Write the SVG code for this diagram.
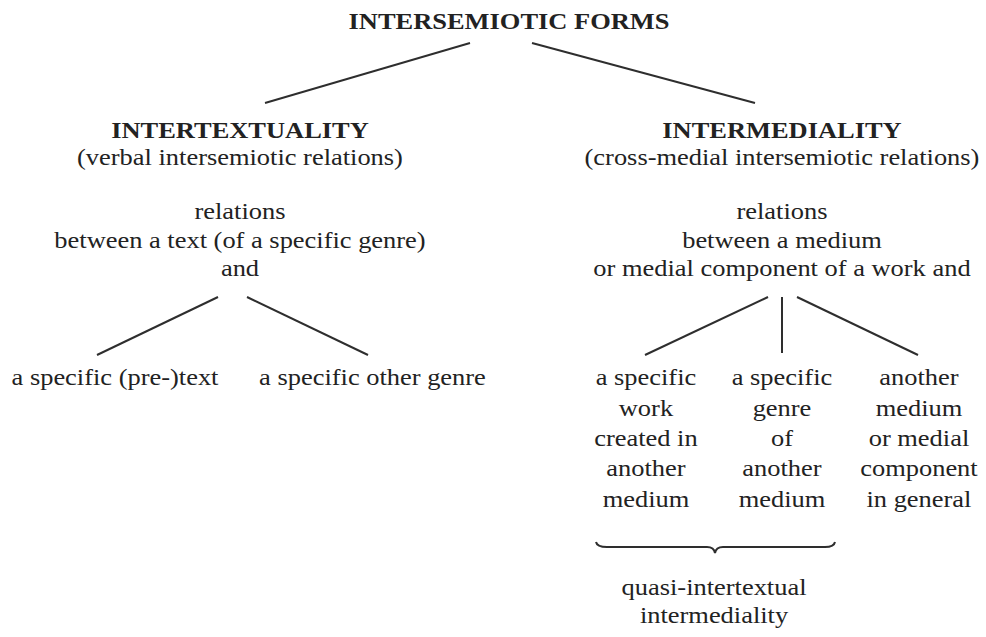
<svg xmlns="http://www.w3.org/2000/svg" width="986" height="637" viewBox="0 0 986 637">
<style>
text{font-family:'Liberation Serif','Times New Roman',serif;fill:#222222;text-anchor:middle;font-size:23px}
.b{font-weight:bold;font-size:23px}
.c line,.c path{stroke:#2e2e2e;stroke-width:2;fill:none}
</style>
<rect width="986" height="637" fill="#ffffff"/>
<g class="c" id="connectors">
<line x1="470" y1="43" x2="265" y2="103"/>
<line x1="532" y1="43" x2="755" y2="103"/>
<line x1="218" y1="297" x2="97" y2="355"/>
<line x1="247" y1="297" x2="368" y2="355"/>
<line x1="768" y1="297" x2="645" y2="355"/>
<line x1="782" y1="297" x2="782" y2="353"/>
<line x1="797" y1="297" x2="918" y2="355"/>
<path d="M596,542 Q597,547 607,547 L707,547 Q714,547 715,553 Q716,547 723,547 L825,547 Q834,547 835,542" stroke-width="1.6"/>
</g>
<g transform="scale(1.15,1)">
<g id="root"><text class="b" x="442.6" y="29">INTERSEMIOTIC FORMS</text></g>
<g id="intertextuality">
<text class="b" x="208.7" y="138">INTERTEXTUALITY</text>
<text x="208.7" y="165">(verbal intersemiotic relations)</text>
<text x="208.7" y="219">relations</text>
<text x="208.7" y="248">between a text (of a specific genre)</text>
<text x="208.7" y="276">and</text>
</g>
<g id="pretext"><text x="100" y="385">a specific (pre-)text</text></g>
<g id="othergenre"><text x="323.9" y="385">a specific other genre</text></g>
<g id="intermediality">
<text class="b" x="680" y="138">INTERMEDIALITY</text>
<text x="680" y="165">(cross-medial intersemiotic relations)</text>
<text x="680" y="219">relations</text>
<text x="680" y="248">between a medium</text>
<text x="680" y="276">or medial component of a work and</text>
</g>
<g id="work">
<text x="561.7" y="385">a specific</text>
<text x="561.7" y="416">work</text>
<text x="561.7" y="446">created in</text>
<text x="561.7" y="476">another</text>
<text x="561.7" y="507">medium</text>
</g>
<g id="genre">
<text x="680" y="385">a specific</text>
<text x="680" y="416">genre</text>
<text x="680" y="446">of</text>
<text x="680" y="476">another</text>
<text x="680" y="507">medium</text>
</g>
<g id="medium">
<text x="799.1" y="385">another</text>
<text x="799.1" y="416">medium</text>
<text x="799.1" y="446">or medial</text>
<text x="799.1" y="476">component</text>
<text x="799.1" y="507">in general</text>
</g>
<g id="quasi">
<text x="620.9" y="595">quasi-intertextual</text>
<text x="620.9" y="623">intermediality</text>
</g>
</g>
</svg>
